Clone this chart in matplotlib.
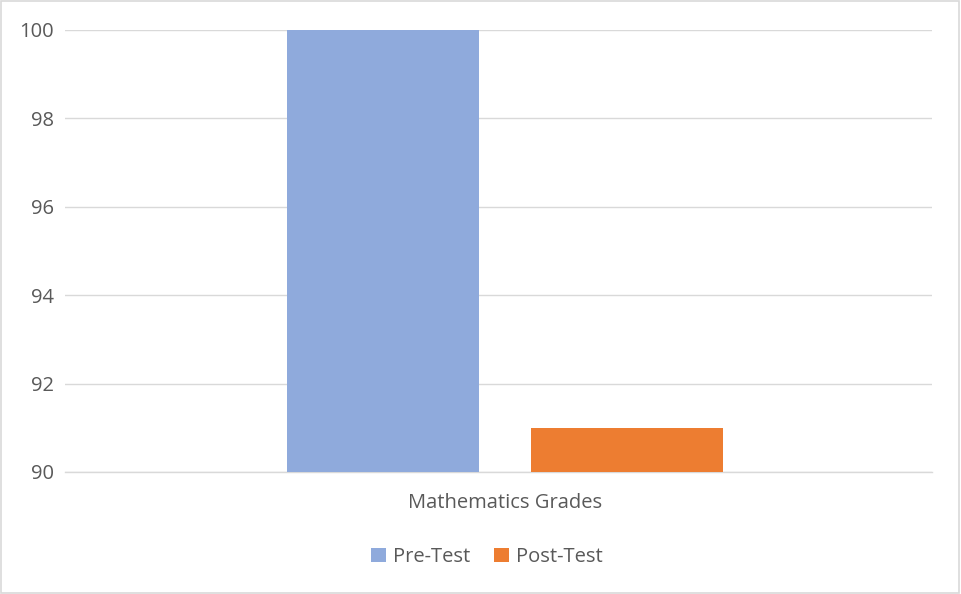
import matplotlib.pyplot as plt
from matplotlib.patches import Rectangle, Patch

# ------------------------------------------------------------
# Data
# ------------------------------------------------------------

category = "Mathematics Grades"
series_names = ["Pre-Test", "Post-Test"]
series_values = [100, 91]
series_colors = ["#8faadc", "#ed7d31"]

y_ticks = [90, 92, 94, 96, 98, 100]

TEXT_COLOR = "#595959"
GRID_COLOR = "#d9d9d9"
FONT_SIZE = 14.5

plt.rcParams["font.family"] = ["Open Sans", "DejaVu Sans"]

# ------------------------------------------------------------
# Figure
# ------------------------------------------------------------

fig = plt.figure(figsize=(9.61, 5.94), dpi=100)
ax = fig.add_axes([65 / 961, 122 / 594, 867 / 961, 442 / 594])

positions = list(range(len(series_values)))
bar_width = 192 / 244

for pos, value, color, name in zip(positions, series_values, series_colors, series_names):
    ax.bar(pos, value - y_ticks[0], bottom=y_ticks[0], width=bar_width,
           color=color, label=name, zorder=3)

ax.set_xlim(-318 / 244, 1 + 305 / 244)
ax.set_ylim(y_ticks[0], y_ticks[-1])
ax.set_yticks(y_ticks)
ax.set_yticklabels([str(t) for t in y_ticks])
ax.set_xticks([])

ax.grid(axis="y", color=GRID_COLOR, linewidth=1, zorder=0)
ax.set_axisbelow(True)
for side in ["top", "right", "left"]:
    ax.spines[side].set_visible(False)
ax.spines["bottom"].set_color(GRID_COLOR)
ax.spines["bottom"].set_linewidth(1)

ax.tick_params(axis="y", length=0, pad=8, labelsize=FONT_SIZE, colors=TEXT_COLOR)

# category label under the bars
ax.text((505 - 65) / 867, -0.07, category, transform=ax.transAxes,
        ha="center", va="center", fontsize=FONT_SIZE, color=TEXT_COLOR)

# legend
handles = [Patch(facecolor=c, edgecolor="none") for c in series_colors]
fig.legend(handles, series_names, loc="center", bbox_to_anchor=(487 / 961, 1 - 557 / 594),
           ncol=2, frameon=False, fontsize=FONT_SIZE, labelcolor=TEXT_COLOR,
           handlelength=0.72, handleheight=0.72, handletextpad=0.35, columnspacing=1.2)

# outer chart border
fig.patches.append(Rectangle((0.001, 0.001), 0.997, 0.997, transform=fig.transFigure,
                             fill=False, edgecolor=GRID_COLOR, linewidth=1.2))

fig.savefig("out.png", dpi=100)
